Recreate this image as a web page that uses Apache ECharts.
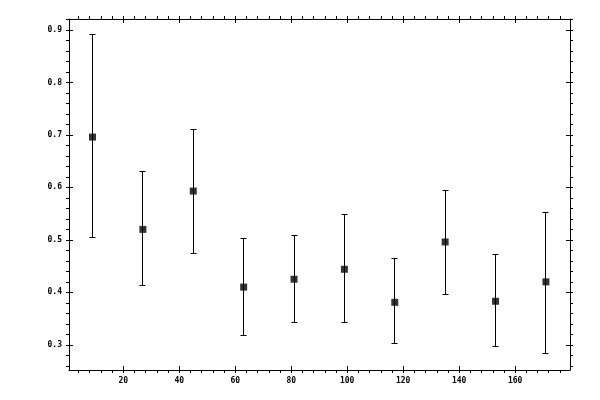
<!DOCTYPE html>
<html>
<head>
<meta charset='utf-8' />
<title></title>
<style>
html, body { margin: 0; padding: 0; background: #fff; }
#chart { width: 600px; height: 400px; }
</style>
</head>
<body>
<div id="chart"></div>
<script src="https://cdn.jsdelivr.net/npm/echarts@6/dist/echarts.min.js"></script>
<script>
// data
var xs    = [9, 27, 45, 63, 81, 99, 117, 135, 153, 171];
var means = [0.696, 0.520, 0.593, 0.410, 0.425, 0.444, 0.381, 0.496, 0.383, 0.420];
var lows  = [0.504, 0.413, 0.475, 0.317, 0.342, 0.342, 0.302, 0.395, 0.296, 0.284];
var highs = [0.891, 0.631, 0.711, 0.502, 0.508, 0.548, 0.464, 0.595, 0.473, 0.553];

// tick values
var xMajor = [20, 40, 60, 80, 100, 120, 140, 160];
var xMinor = [4, 8, 12, 16, 24, 28, 32, 36, 44, 48, 52, 56, 64, 68, 72, 76, 84, 88, 92, 96,
              104, 108, 112, 116, 124, 128, 132, 136, 144, 148, 152, 156, 164, 168, 172, 176];
var yMajor = [0.3, 0.4, 0.5, 0.6, 0.7, 0.8, 0.9];
var yMinor = [0.26, 0.28, 0.32, 0.34, 0.36, 0.38, 0.42, 0.44, 0.46, 0.48, 0.52, 0.54, 0.56, 0.58,
              0.62, 0.64, 0.66, 0.68, 0.72, 0.74, 0.76, 0.78, 0.82, 0.84, 0.86, 0.88, 0.92];

var xRange = [0.6, 179.6];
var yRange = [0.252, 0.921];

var chart = echarts.init(document.getElementById('chart'));

var lineStyle = { color: '#000', width: 1 };
var labelFont = { color: '#000', fontFamily: 'DejaVu Sans Mono', fontSize: 8, fontWeight: 'bold' };

// one axis draws line + outward ticks (all), a twin draws inward major ticks
function xAxes(pos, withLabels) {
  return [
    {
      type: 'value', position: pos, min: xRange[0], max: xRange[1],
      axisLine: { show: true, onZero: false, lineStyle: lineStyle },
      axisTick: { show: true, inside: false, length: 3, customValues: xMajor.concat(xMinor), lineStyle: lineStyle },
      axisLabel: withLabels ? Object.assign({ show: true, margin: 7, customValues: xMajor }, labelFont) : { show: false },
      splitLine: { show: false }
    },
    {
      type: 'value', position: pos, min: xRange[0], max: xRange[1],
      axisLine: { show: false, onZero: false },
      axisTick: { show: true, inside: true, length: 4, customValues: xMajor, lineStyle: lineStyle },
      axisLabel: { show: false },
      splitLine: { show: false }
    }
  ];
}
function yAxes(pos, withLabels) {
  return [
    {
      type: 'value', position: pos, min: yRange[0], max: yRange[1],
      axisLine: { show: true, onZero: false, lineStyle: lineStyle },
      axisTick: { show: true, inside: false, length: 3, customValues: yMajor.concat(yMinor), lineStyle: lineStyle },
      axisLabel: withLabels ? Object.assign({
        show: true, margin: 7, customValues: yMajor,
        formatter: function (v) { return v.toFixed(1); }
      }, labelFont) : { show: false },
      splitLine: { show: false }
    },
    {
      type: 'value', position: pos, min: yRange[0], max: yRange[1],
      axisLine: { show: false, onZero: false },
      axisTick: { show: true, inside: true, length: 4, customValues: yMajor, lineStyle: lineStyle },
      axisLabel: { show: false },
      splitLine: { show: false }
    }
  ];
}

var points = xs.map(function (x, i) { return [x, means[i]]; });
var bars = xs.map(function (x, i) { return [x, lows[i], highs[i]]; });

// snap to pixel centres so the 1px lines stay crisp
function px(v) { return Math.round(v - 0.5) + 0.5; }

var option = {
  animation: false,
  backgroundColor: '#fff',
  grid: { left: 69, right: 30, top: 19, bottom: 30 },
  xAxis: xAxes('bottom', true).concat(xAxes('top', false)),
  yAxis: yAxes('left', true).concat(yAxes('right', false)),
  series: [
    {
      type: 'custom',
      xAxisIndex: 0,
      yAxisIndex: 0,
      data: bars,
      renderItem: function (params, api) {
        var x = api.value(0);
        var top = api.coord([x, api.value(2)]);
        var bot = api.coord([x, api.value(1)]);
        var cx = px(top[0]), ty = px(top[1]), by = px(bot[1]);
        var hw = 3;
        var st = { stroke: '#000', lineWidth: 1 };
        return {
          type: 'group',
          children: [
            { type: 'line', shape: { x1: cx, y1: ty, x2: cx, y2: by }, style: st },
            { type: 'line', shape: { x1: cx - hw, y1: ty, x2: cx + hw, y2: ty }, style: st },
            { type: 'line', shape: { x1: cx - hw, y1: by, x2: cx + hw, y2: by }, style: st }
          ]
        };
      },
      z: 2
    },
    {
      type: 'scatter',
      xAxisIndex: 0,
      yAxisIndex: 0,
      symbol: 'rect',
      symbolSize: 7,
      itemStyle: { color: '#000' },
      data: points,
      z: 3
    }
  ]
};

chart.setOption(option);
</script>
</body>
</html>
